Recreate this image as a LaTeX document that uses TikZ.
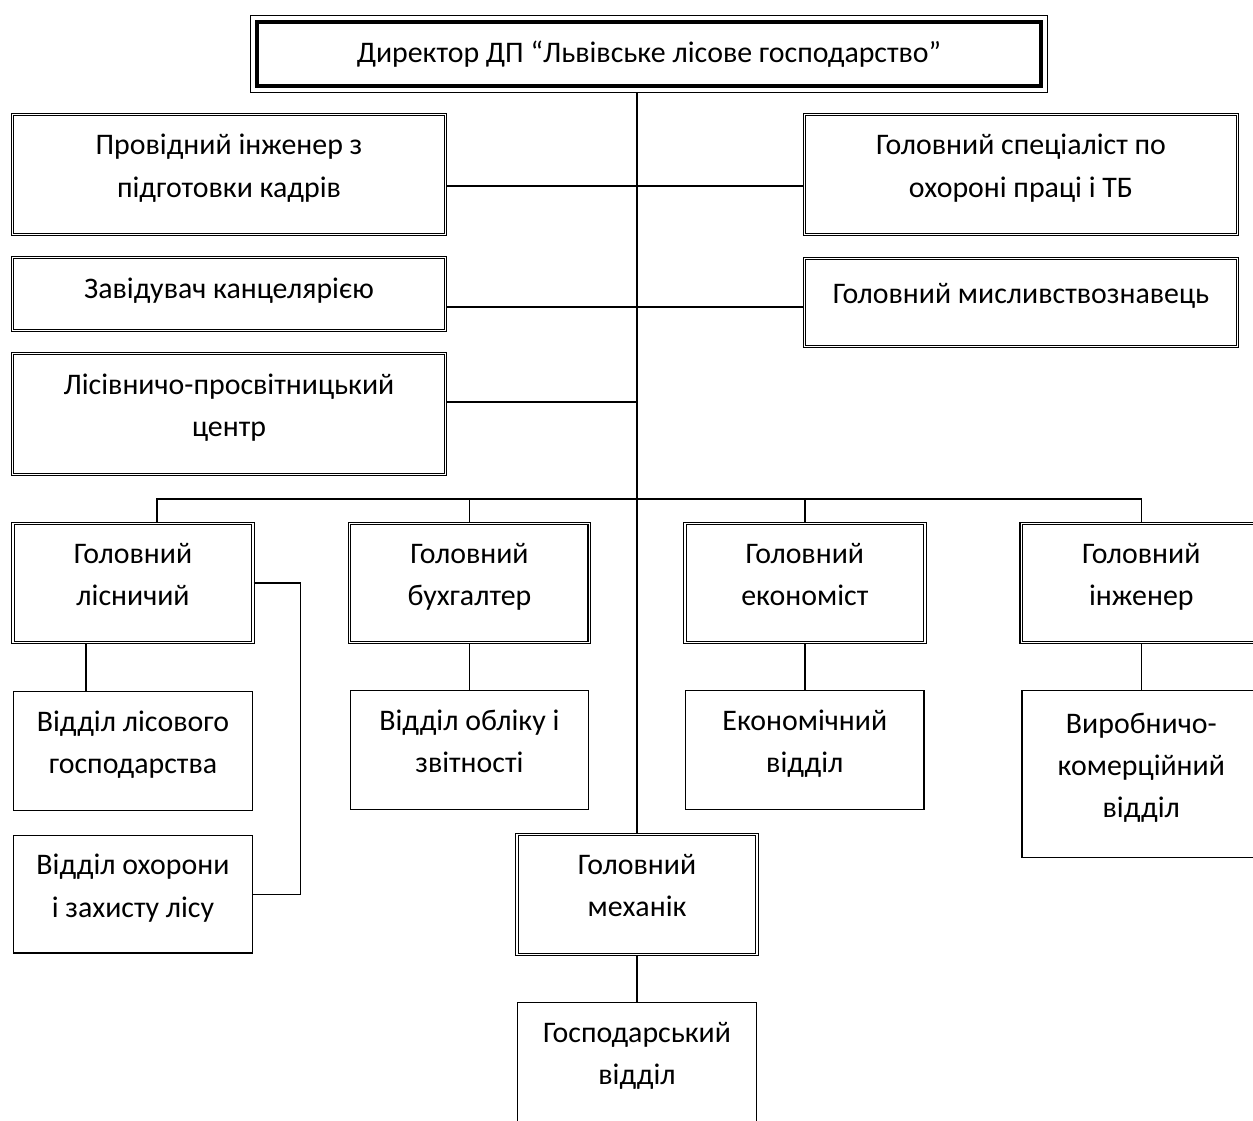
\documentclass[tikz,border=0pt]{standalone}
\usepackage{fontspec}
\setmainfont{Carlito}
\usetikzlibrary{positioning}

\begin{document}
\begin{tikzpicture}[x=0.02cm, y=-0.02cm, on grid,
  head/.style={draw, line width=0.7pt, align=center, inner sep=0pt, font=\fontsize{17}{24}\selectfont},
  post/.style={draw, double, line width=0.7pt, double distance=0.8pt, align=center, inner sep=0pt,
    text depth=10pt, font=\fontsize{17}{24}\selectfont},
  unit/.style={draw, line width=0.8pt, align=center, inner sep=0pt,
    text depth=10pt, font=\fontsize{17}{24}\selectfont},
  link/.style={line width=0.8pt}]
  \useasboundingbox (0,0) rectangle (1253,1120);

  % director
  \node[head, minimum width=15.94cm, minimum height=1.54cm] (dir) at (649,54)
    {Директор ДП “Львівське лісове господарство”};
  \draw[line width=2.2pt] ([shift={(7,7)}]dir.north west) rectangle ([shift={(-7,-7)}]dir.south east);

  % staff on the left and right
  \node[post, minimum width=8.66cm, minimum height=2.4cm] (ping) at (229,174.5)
    {Провідний інженер з\\підготовки кадрів};
  \node[post, minimum width=8.66cm, minimum height=1.46cm, text depth=6pt] (kanc) [below=2.39cm of ping]
    {Завідувач канцелярією};
  \node[post, minimum width=8.66cm, minimum height=2.42cm] (lpc) [below=2.4cm of kanc]
    {Лісівничо-просвітницький\\центр};
  \node[post, minimum width=8.66cm, minimum height=2.4cm] (ohp) at (1021,174.5)
    {Головний спеціаліст по\\охороні праці і ТБ};
  \node[post, minimum width=8.66cm, minimum height=1.76cm] (myslyv) [below=2.56cm of ohp]
    {Головний мисливствознавець};

  % heads
  \node[post, minimum width=4.8cm, minimum height=2.38cm] (lisn) at (133,583) {Головний\\лісничий};
  \node[post, minimum width=4.8cm, minimum height=2.38cm] (buh) [right=6.73cm of lisn] {Головний\\бухгалтер};
  \node[post, minimum width=4.8cm, minimum height=2.38cm] (ekon) [right=6.71cm of buh] {Головний\\економіст};
  \node[post, minimum width=4.8cm, minimum height=2.38cm] (inzh) [right=6.73cm of ekon] {Головний\\інженер};
  \node[post, minimum width=4.8cm, minimum height=2.4cm] (meh) at (637,894.5) {Головний\\механік};

  % departments
  \node[unit, minimum width=4.77cm, minimum height=2.37cm] (vlg) [below=3.36cm of lisn] {Відділ лісового\\господарства};
  \node[unit, minimum width=4.77cm, minimum height=2.35cm] (voz) [below=2.87cm of vlg] {Відділ охорони\\і захисту лісу};
  \node[unit, minimum width=4.77cm, minimum height=2.37cm] (vob) [below=3.34cm of buh] {Відділ обліку і\\звітності};
  \node[unit, minimum width=4.77cm, minimum height=2.37cm] (eviddil) [below=3.34cm of ekon] {Економічний\\відділ};
  \node[unit, minimum width=4.77cm, minimum height=3.33cm] (vkv) [below=3.82cm of inzh] {Виробничо-\\комерційний\\відділ};
  \node[unit, minimum width=4.77cm, minimum height=2.37cm] (gosp) [below=3.35cm of meh] {Господарський\\відділ};

  \coordinate (bus) at (637,499);

  \draw[link] (dir.south -| meh.north) -- (meh.north);
  \draw[link] ([yshift=-0.23cm]ping.east) -- ([yshift=-0.23cm]ohp.west);
  \draw[link] ([yshift=-0.26cm]kanc.east) -- ([yshift=-0.26cm]kanc.east -| myslyv.west);
  \draw[link] ([yshift=0.24cm]lpc.east) -- ([yshift=0.24cm]lpc.east -| meh.north);
  \draw[link] ([xshift=0.48cm]lisn.north) |- (bus) -| (inzh.north);
  \draw[link] (buh.north) -- (buh.north |- bus);
  \draw[link] (ekon.north) -- (ekon.north |- bus);
  \draw[link] ([xshift=-0.94cm]lisn.south) -- ([xshift=-0.94cm]lisn.south |- vlg.north);
  \draw[link] (lisn.east) -- ++(47,0) |- (voz.east);
  \draw[link] (buh.south) -- (vob.north);
  \draw[link] (ekon.south) -- (eviddil.north);
  \draw[link] (inzh.south) -- (vkv.north);
  \draw[link] (meh.south) -- (gosp.north);
\end{tikzpicture}
\end{document}
